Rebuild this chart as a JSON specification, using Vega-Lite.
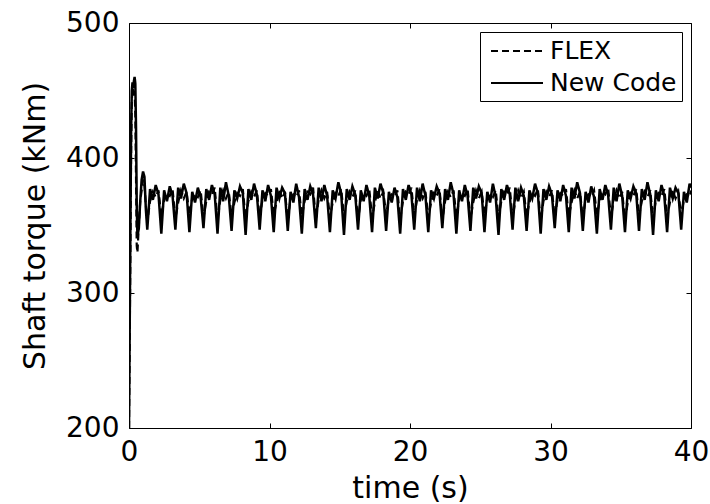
{
"$schema":"https://vega.github.io/schema/vega-lite/v6.json",
"width":562,"height":405,
"autosize":{"type":"none"},
"padding":{"left":129,"top":23,"right":19,"bottom":76},
"background":"white",
"config":{"view":{"stroke":null},"font":"DejaVu Sans",
"axis":{"grid":false,"domainColor":"black","tickColor":"black","labelColor":"black","titleColor":"black","tickSize":-5,"labelFontSize":28,"titleFontSize":30,"titleFontWeight":"normal","labelFont":"DejaVu Sans","titleFont":"DejaVu Sans","domainWidth":1,"tickWidth":1,"labelFlush":false,"labelOverlap":false}},
"data":{"values":[
{"t":0,"FLEX":200,"New Code":200},
{"t":0.05,"FLEX":262,"New Code":275},
{"t":0.1,"FLEX":335,"New Code":348},
{"t":0.15,"FLEX":405,"New Code":420},
{"t":0.2,"FLEX":442,"New Code":450},
{"t":0.25,"FLEX":452,"New Code":456},
{"t":0.3,"FLEX":449,"New Code":452},
{"t":0.35,"FLEX":446,"New Code":457},
{"t":0.4,"FLEX":450,"New Code":460},
{"t":0.45,"FLEX":432,"New Code":455},
{"t":0.5,"FLEX":385,"New Code":422},
{"t":0.55,"FLEX":335,"New Code":365},
{"t":0.6,"FLEX":330,"New Code":342},
{"t":0.7,"FLEX":350,"New Code":348},
{"t":0.8,"FLEX":368,"New Code":368},
{"t":0.9,"FLEX":376,"New Code":384},
{"t":1.0,"FLEX":384,"New Code":390},
{"t":1.1,"FLEX":380,"New Code":386},
{"t":1.2,"FLEX":365,"New Code":362},
{"t":1.3,"FLEX":353,"New Code":347},{"t":1.5,"FLEX":368,"New Code":377},{"t":1.7,"FLEX":375,"New Code":369},{"t":1.9,"FLEX":371,"New Code":380},{"t":2.1,"FLEX":376,"New Code":373},
{"t":2.3,"FLEX":357,"New Code":344},{"t":2.5,"FLEX":369,"New Code":376},{"t":2.7,"FLEX":374,"New Code":368},{"t":2.9,"FLEX":372,"New Code":379},{"t":3.1,"FLEX":377,"New Code":372},
{"t":3.3,"FLEX":355,"New Code":347},{"t":3.5,"FLEX":367,"New Code":378},{"t":3.7,"FLEX":376,"New Code":370},{"t":3.9,"FLEX":370,"New Code":381},{"t":4.1,"FLEX":375,"New Code":374},
{"t":4.3,"FLEX":358,"New Code":345},{"t":4.5,"FLEX":370,"New Code":375},{"t":4.7,"FLEX":373,"New Code":367},{"t":4.9,"FLEX":371,"New Code":378},{"t":5.1,"FLEX":376,"New Code":371},
{"t":5.3,"FLEX":356,"New Code":348},{"t":5.5,"FLEX":368,"New Code":377},{"t":5.7,"FLEX":375,"New Code":369},{"t":5.9,"FLEX":373,"New Code":380},{"t":6.1,"FLEX":378,"New Code":373},
{"t":6.3,"FLEX":354,"New Code":344},{"t":6.5,"FLEX":369,"New Code":378},{"t":6.7,"FLEX":376,"New Code":368},{"t":6.9,"FLEX":370,"New Code":382},{"t":7.1,"FLEX":375,"New Code":372},
{"t":7.3,"FLEX":357,"New Code":346},{"t":7.5,"FLEX":367,"New Code":376},{"t":7.7,"FLEX":374,"New Code":370},{"t":7.9,"FLEX":372,"New Code":379},{"t":8.1,"FLEX":377,"New Code":374},
{"t":8.3,"FLEX":355,"New Code":343},{"t":8.5,"FLEX":368,"New Code":377},{"t":8.7,"FLEX":375,"New Code":369},{"t":8.9,"FLEX":371,"New Code":381},{"t":9.1,"FLEX":376,"New Code":373},
{"t":9.3,"FLEX":356,"New Code":347},{"t":9.5,"FLEX":369,"New Code":376},{"t":9.7,"FLEX":374,"New Code":368},{"t":9.9,"FLEX":372,"New Code":380},{"t":10.1,"FLEX":377,"New Code":372},
{"t":10.3,"FLEX":358,"New Code":345},{"t":10.5,"FLEX":367,"New Code":378},{"t":10.7,"FLEX":376,"New Code":370},{"t":10.9,"FLEX":370,"New Code":378},{"t":11.1,"FLEX":375,"New Code":374},
{"t":11.3,"FLEX":354,"New Code":346},{"t":11.5,"FLEX":370,"New Code":375},{"t":11.7,"FLEX":373,"New Code":367},{"t":11.9,"FLEX":371,"New Code":381},{"t":12.1,"FLEX":376,"New Code":371},
{"t":12.3,"FLEX":357,"New Code":344},{"t":12.5,"FLEX":368,"New Code":377},{"t":12.7,"FLEX":375,"New Code":369},{"t":12.9,"FLEX":373,"New Code":379},{"t":13.1,"FLEX":378,"New Code":373},
{"t":13.3,"FLEX":355,"New Code":348},{"t":13.5,"FLEX":369,"New Code":378},{"t":13.7,"FLEX":376,"New Code":368},{"t":13.9,"FLEX":370,"New Code":380},{"t":14.1,"FLEX":375,"New Code":372},
{"t":14.3,"FLEX":356,"New Code":345},{"t":14.5,"FLEX":367,"New Code":376},{"t":14.7,"FLEX":374,"New Code":370},{"t":14.9,"FLEX":372,"New Code":382},{"t":15.1,"FLEX":377,"New Code":374},
{"t":15.3,"FLEX":357,"New Code":343},{"t":15.5,"FLEX":368,"New Code":377},{"t":15.7,"FLEX":375,"New Code":369},{"t":15.9,"FLEX":371,"New Code":379},{"t":16.1,"FLEX":376,"New Code":373},
{"t":16.3,"FLEX":354,"New Code":347},{"t":16.5,"FLEX":369,"New Code":376},{"t":16.7,"FLEX":374,"New Code":368},{"t":16.9,"FLEX":372,"New Code":380},{"t":17.1,"FLEX":377,"New Code":372},
{"t":17.3,"FLEX":356,"New Code":345},{"t":17.5,"FLEX":367,"New Code":378},{"t":17.7,"FLEX":376,"New Code":370},{"t":17.9,"FLEX":370,"New Code":381},{"t":18.1,"FLEX":375,"New Code":374},
{"t":18.3,"FLEX":358,"New Code":346},{"t":18.5,"FLEX":370,"New Code":375},{"t":18.7,"FLEX":373,"New Code":367},{"t":18.9,"FLEX":371,"New Code":378},{"t":19.1,"FLEX":376,"New Code":371},
{"t":19.3,"FLEX":355,"New Code":344},{"t":19.5,"FLEX":368,"New Code":377},{"t":19.7,"FLEX":375,"New Code":369},{"t":19.9,"FLEX":373,"New Code":380},{"t":20.1,"FLEX":378,"New Code":373},
{"t":20.3,"FLEX":357,"New Code":347},{"t":20.5,"FLEX":369,"New Code":378},{"t":20.7,"FLEX":376,"New Code":368},{"t":20.9,"FLEX":370,"New Code":381},{"t":21.1,"FLEX":375,"New Code":372},
{"t":21.3,"FLEX":356,"New Code":345},{"t":21.5,"FLEX":367,"New Code":376},{"t":21.7,"FLEX":374,"New Code":370},{"t":21.9,"FLEX":372,"New Code":379},{"t":22.1,"FLEX":377,"New Code":374},
{"t":22.3,"FLEX":354,"New Code":348},{"t":22.5,"FLEX":368,"New Code":377},{"t":22.7,"FLEX":375,"New Code":369},{"t":22.9,"FLEX":371,"New Code":382},{"t":23.1,"FLEX":376,"New Code":373},
{"t":23.3,"FLEX":357,"New Code":344},{"t":23.5,"FLEX":369,"New Code":376},{"t":23.7,"FLEX":374,"New Code":368},{"t":23.9,"FLEX":372,"New Code":380},{"t":24.1,"FLEX":377,"New Code":372},
{"t":24.3,"FLEX":355,"New Code":346},{"t":24.5,"FLEX":367,"New Code":378},{"t":24.7,"FLEX":376,"New Code":370},{"t":24.9,"FLEX":370,"New Code":379},{"t":25.1,"FLEX":375,"New Code":374},
{"t":25.3,"FLEX":358,"New Code":345},{"t":25.5,"FLEX":370,"New Code":375},{"t":25.7,"FLEX":373,"New Code":367},{"t":25.9,"FLEX":371,"New Code":381},{"t":26.1,"FLEX":376,"New Code":371},
{"t":26.3,"FLEX":356,"New Code":343},{"t":26.5,"FLEX":368,"New Code":377},{"t":26.7,"FLEX":375,"New Code":369},{"t":26.9,"FLEX":373,"New Code":380},{"t":27.1,"FLEX":378,"New Code":373},
{"t":27.3,"FLEX":355,"New Code":347},{"t":27.5,"FLEX":369,"New Code":378},{"t":27.7,"FLEX":376,"New Code":368},{"t":27.9,"FLEX":370,"New Code":378},{"t":28.1,"FLEX":375,"New Code":372},
{"t":28.3,"FLEX":357,"New Code":346},{"t":28.5,"FLEX":367,"New Code":376},{"t":28.7,"FLEX":374,"New Code":370},{"t":28.9,"FLEX":372,"New Code":381},{"t":29.1,"FLEX":377,"New Code":374},
{"t":29.3,"FLEX":354,"New Code":344},{"t":29.5,"FLEX":368,"New Code":377},{"t":29.7,"FLEX":375,"New Code":369},{"t":29.9,"FLEX":371,"New Code":379},{"t":30.1,"FLEX":376,"New Code":373},
{"t":30.3,"FLEX":356,"New Code":348},{"t":30.5,"FLEX":369,"New Code":376},{"t":30.7,"FLEX":374,"New Code":368},{"t":30.9,"FLEX":372,"New Code":380},{"t":31.1,"FLEX":377,"New Code":372},
{"t":31.3,"FLEX":357,"New Code":345},{"t":31.5,"FLEX":367,"New Code":378},{"t":31.7,"FLEX":376,"New Code":370},{"t":31.9,"FLEX":370,"New Code":382},{"t":32.1,"FLEX":375,"New Code":374},
{"t":32.3,"FLEX":355,"New Code":346},{"t":32.5,"FLEX":370,"New Code":375},{"t":32.7,"FLEX":373,"New Code":367},{"t":32.9,"FLEX":371,"New Code":379},{"t":33.1,"FLEX":376,"New Code":371},
{"t":33.3,"FLEX":358,"New Code":344},{"t":33.5,"FLEX":368,"New Code":377},{"t":33.7,"FLEX":375,"New Code":369},{"t":33.9,"FLEX":373,"New Code":380},{"t":34.1,"FLEX":378,"New Code":373},
{"t":34.3,"FLEX":356,"New Code":347},{"t":34.5,"FLEX":369,"New Code":378},{"t":34.7,"FLEX":376,"New Code":368},{"t":34.9,"FLEX":370,"New Code":381},{"t":35.1,"FLEX":375,"New Code":372},
{"t":35.3,"FLEX":354,"New Code":345},{"t":35.5,"FLEX":367,"New Code":376},{"t":35.7,"FLEX":374,"New Code":370},{"t":35.9,"FLEX":372,"New Code":379},{"t":36.1,"FLEX":377,"New Code":374},
{"t":36.3,"FLEX":357,"New Code":346},{"t":36.5,"FLEX":368,"New Code":377},{"t":36.7,"FLEX":375,"New Code":369},{"t":36.9,"FLEX":371,"New Code":382},{"t":37.1,"FLEX":376,"New Code":373},
{"t":37.3,"FLEX":355,"New Code":343},{"t":37.5,"FLEX":369,"New Code":376},{"t":37.7,"FLEX":374,"New Code":368},{"t":37.9,"FLEX":372,"New Code":380},{"t":38.1,"FLEX":377,"New Code":372},
{"t":38.3,"FLEX":356,"New Code":345},{"t":38.5,"FLEX":367,"New Code":378},{"t":38.7,"FLEX":376,"New Code":370},{"t":38.9,"FLEX":370,"New Code":378},{"t":39.1,"FLEX":375,"New Code":374},
{"t":39.3,"FLEX":357,"New Code":347},{"t":39.5,"FLEX":370,"New Code":375},{"t":39.7,"FLEX":373,"New Code":367},{"t":39.9,"FLEX":371,"New Code":381},{"t":40.0,"FLEX":376,"New Code":378}
]},
"transform":[{"fold":["FLEX","New Code"],"as":["series","torque"]}],
"layer":[
{"transform":[{"filter":"datum.series === 'FLEX'"}],
 "mark":{"type":"line","color":"black","strokeWidth":2.2,"clip":true},
 "encoding":{
  "x":{"field":"t","type":"quantitative","scale":{"domain":[0,40],"nice":false,"zero":false},
   "axis":{"orient":"bottom","values":[0,10,20,30,40],"title":"time (s)","labelPadding":15,"titleY":45,"titleBaseline":"top"}},
  "y":{"field":"torque","type":"quantitative","scale":{"domain":[200,500],"nice":false,"zero":false},
   "axis":{"orient":"left","values":[200,300,400,500],"title":"Shaft torque (kNm)","labelPadding":15,"titleX":-79,"titleBaseline":"bottom"}},
  "strokeDash":{"field":"series","type":"nominal","scale":{"domain":["FLEX","New Code"],"range":[[7,4],[1,0]]},
   "legend":{"title":null,"orient":"none","legendX":351,"legendY":9,"strokeColor":"black","fillColor":"white","padding":5,"cornerRadius":0,"symbolType":"M-2,0H2","symbolSize":676,"symbolStrokeColor":"black","symbolFillColor":"transparent","symbolStrokeWidth":2,"symbolOffset":18,"labelOffset":19,"labelFontSize":25,"labelFont":"DejaVu Sans","labelColor":"black","rowPadding":5,"labelLimit":0}}
 }},
{"transform":[{"filter":"datum.series === 'New Code'"}],
 "mark":{"type":"line","color":"black","strokeWidth":2.5,"clip":true},
 "encoding":{
  "x":{"field":"t","type":"quantitative","axis":{"orient":"top","values":[0,10,20,30,40],"labels":false,"title":null}},
  "y":{"field":"torque","type":"quantitative","axis":{"orient":"right","values":[200,300,400,500],"labels":false,"title":null}},
  "strokeDash":{"field":"series","type":"nominal"}
 }}
],
"resolve":{"axis":{"x":"independent","y":"independent"}}
}
